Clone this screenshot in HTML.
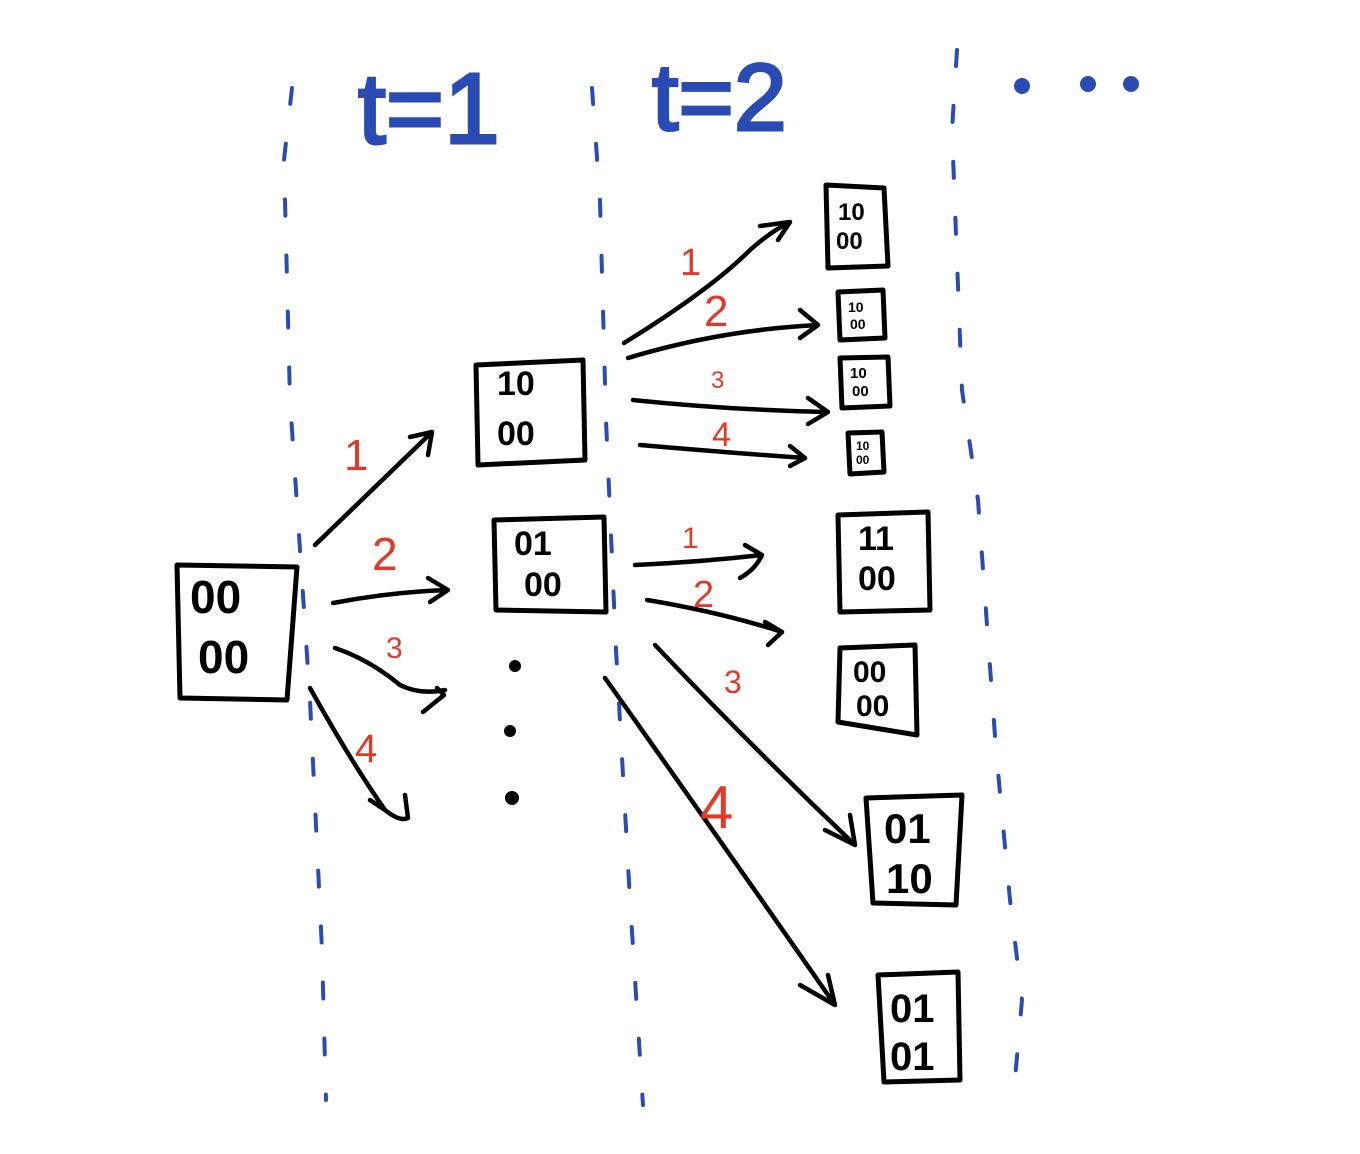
<!DOCTYPE html>
<html><head><meta charset="utf-8"><style>
html,body{margin:0;padding:0;background:#fff;}
svg{display:block;}
.b{fill:none;stroke:#2a4bb3;stroke-width:4;stroke-linecap:round;stroke-dasharray:16 40;}
.k{fill:none;stroke:#000;stroke-width:5;stroke-linecap:round;stroke-linejoin:round;}
.a{fill:none;stroke:#000;stroke-width:4.5;stroke-linecap:round;stroke-linejoin:round;}
.r{fill:#e03a2a;font-family:"Liberation Sans",sans-serif;}
.d{fill:#000;font-family:"Liberation Sans",sans-serif;font-weight:bold;}
.t{fill:#2a4bb3;font-family:"Liberation Sans",sans-serif;}
</style></head><body>
<svg width="1360" height="1154" viewBox="0 0 1360 1154" xmlns="http://www.w3.org/2000/svg">
<rect width="1360" height="1154" fill="#fff"/>
<path class="b" d="M292 88 L284 160 L290 400 L310 700 L322 950 L326 1100"/>
<path class="b" d="M592 88 L600 200 L606 420 L616 650 L630 900 L643 1105"/>
<path class="b" d="M957 50 L952 130 L962 390 L978 500 L996 750 L1010 900 L1022 1000 L1014 1090"/>
<text class="t" x="358" y="143" font-size="100" stroke="#2a4bb3" stroke-width="3">t=1</text>
<text class="t" x="652" y="130" font-size="95" stroke="#2a4bb3" stroke-width="3">t=2</text>
<circle cx="1022" cy="86" r="8" fill="#2a4bb3"/><circle cx="1088" cy="84" r="8" fill="#2a4bb3"/><circle cx="1131" cy="84" r="8" fill="#2a4bb3"/>
<path class="k" d="M177 565 L297 567 L287 700 L180 698 Z"/>
<text class="d" x="190" y="613" font-size="46">00</text><text class="d" x="198" y="673" font-size="46">00</text>
<path class="k" d="M476 365 L583 360 L585 460 L478 465 Z"/>
<text class="d" x="497" y="395" font-size="34">10</text><text class="d" x="497" y="445" font-size="34">00</text>
<path class="k" d="M494 520 L604 517 L606 612 L496 610 Z"/>
<text class="d" x="514" y="555" font-size="34">01</text><text class="d" x="524" y="596" font-size="34">00</text>
<path class="k" d="M826 185 L884 188 L888 266 L828 268 Z"/>
<text class="d" x="838" y="220" font-size="24">10</text><text class="d" x="836" y="249" font-size="24">00</text>
<path class="k" d="M838 292 L883 290 L885 338 L840 340 Z"/>
<text class="d" x="848" y="312" font-size="14">10</text><text class="d" x="850" y="329" font-size="14">00</text>
<path class="k" d="M840 358 L888 357 L890 406 L842 408 Z"/>
<text class="d" x="850" y="378" font-size="15">10</text><text class="d" x="852" y="396" font-size="15">00</text>
<path class="k" d="M848 433 L882 432 L884 472 L850 474 Z"/>
<text class="d" x="856" y="450" font-size="12">10</text><text class="d" x="856" y="464" font-size="12">00</text>
<path class="k" d="M838 515 L928 512 L930 610 L840 612 Z"/>
<text class="d" x="858" y="550" font-size="34">11</text><text class="d" x="858" y="590" font-size="34">00</text>
<path class="k" d="M840 648 L915 645 L917 735 L838 722 Z"/>
<text class="d" x="853" y="682" font-size="30">00</text><text class="d" x="856" y="716" font-size="30">00</text>
<path class="k" d="M866 798 L962 795 L956 905 L873 903 Z"/>
<text class="d" x="884" y="843" font-size="42">01</text><text class="d" x="886" y="893" font-size="42">10</text>
<path class="k" d="M878 975 L958 972 L960 1080 L884 1082 Z"/>
<text class="d" x="890" y="1022" font-size="40">01</text><text class="d" x="890" y="1070" font-size="40">01</text>
<circle cx="515" cy="666" r="6"/><circle cx="510" cy="731" r="6"/><circle cx="512" cy="798" r="7"/>
<path class="a" d="M315 545 L432 432 M410 437 L432 432 L428 455"/>
<path class="a" d="M333 603 Q390 592 448 590 M428 578 L448 590 L430 602"/>
<path class="a" d="M335 648 Q370 660 400 685 Q420 695 445 690 M437 688 L444 695 L423 712"/>
<path class="a" d="M310 688 Q350 760 385 810 Q400 822 408 818 L405 795 M385 810 L370 800"/>
<text class="r" x="344" y="470" font-size="44">1</text>
<text class="r" x="372" y="570" font-size="46">2</text>
<text class="r" x="386" y="658" font-size="30">3</text>
<text class="r" x="355" y="762" font-size="40">4</text>
<path class="a" d="M624 343 Q710 290 750 250 Q770 232 790 222 M760 226 L790 222 L778 240"/>
<path class="a" d="M628 358 Q720 330 818 325 M800 310 L818 325 L800 338"/>
<path class="a" d="M633 400 Q730 410 828 412 M808 398 L828 412 L808 424"/>
<path class="a" d="M640 445 Q720 452 805 458 M790 446 L805 458 L790 466"/>
<text class="r" x="680" y="275" font-size="38">1</text>
<text class="r" x="704" y="326" font-size="44">2</text>
<text class="r" x="711" y="388" font-size="24">3</text>
<text class="r" x="712" y="446" font-size="34">4</text>
<path class="a" d="M635 565 Q700 562 762 555 Q755 570 740 578 M745 545 L762 555"/>
<path class="a" d="M647 600 Q720 612 782 632 M765 622 L782 632 L768 645"/>
<path class="a" d="M655 645 Q750 745 855 845 M825 830 L855 845 L850 815"/>
<path class="a" d="M605 678 Q720 840 835 1005 M800 985 L835 1005 L828 975"/>
<text class="r" x="682" y="548" font-size="30">1</text>
<text class="r" x="693" y="607" font-size="38">2</text>
<text class="r" x="724" y="693" font-size="32">3</text>
<text class="r" x="700" y="828" font-size="60">4</text>
</svg>
</body></html>
